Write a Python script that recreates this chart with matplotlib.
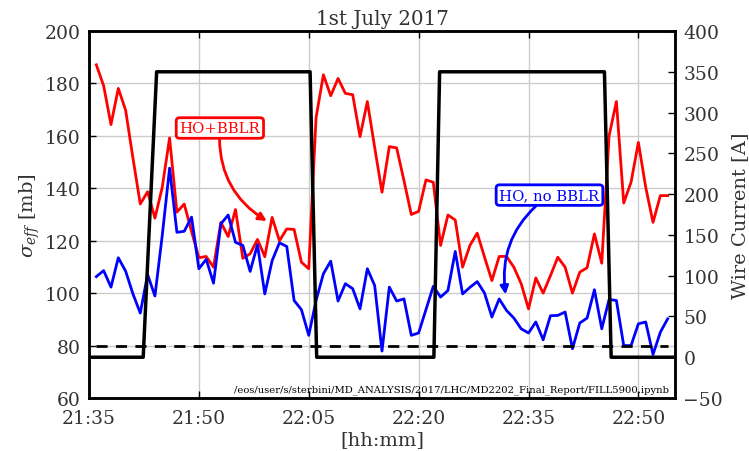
import datetime as dt
import matplotlib
matplotlib.use("Agg")
import matplotlib.pyplot as plt
import matplotlib.dates as mdates

plt.rcParams["font.family"] = "DejaVu Serif"
plt.rcParams["mathtext.fontset"] = "dejavuserif"

# Effective cross-section [mb], one sample per minute from 21:36 to 22:54
sigma_bblr = [187.1, 179.1, 164.3, 178.1, 169.8, 151.5, 134.0, 138.7, 128.6, 140.4,
              159.2, 130.9, 134.0, 123.5, 113.5, 114.0, 109.9, 127.0, 121.6, 131.9,
              113.3, 115.0, 120.5, 113.9, 128.9, 120.0, 124.5, 124.3, 111.8, 109.3,
              167.0, 183.3, 175.3, 181.9, 176.2, 175.7, 159.7, 173.1, 155.6, 138.5,
              155.9, 155.4, 142.9, 130.0, 131.2, 143.2, 142.3, 118.2, 129.8, 127.9,
              109.9, 118.2, 122.9, 113.7, 104.8, 114.0, 114.0, 109.9, 103.6, 94.0,
              105.8, 100.0, 106.7, 113.7, 109.9, 100.0, 108.0, 109.7, 122.6, 111.4,
              160.0, 173.1, 134.4, 142.3, 157.5, 140.4, 127.0, 137.2, 137.2]

sigma_no_bblr = [106.3, 108.6, 102.3, 113.5, 108.4, 99.7, 92.4, 107.1, 98.9, 122.0,
                 147.7, 123.2, 123.6, 129.0, 109.3, 112.9, 103.8, 126.4, 129.8, 119.4,
                 118.2, 108.3, 118.5, 99.7, 112.4, 119.2, 117.8, 97.2, 93.7, 83.9,
                 97.2, 107.4, 112.2, 97.0, 103.6, 101.7, 94.0, 109.3, 102.9, 77.9,
                 102.3, 97.0, 97.8, 83.9, 84.8, 93.7, 102.6, 98.5, 101.0, 115.9,
                 99.7, 102.2, 104.4, 100.0, 90.9, 97.8, 93.4, 90.5, 86.4, 84.8,
                 89.0, 82.2, 91.4, 91.5, 92.8, 78.8, 88.6, 90.5, 101.3, 86.4,
                 97.6, 97.2, 80.0, 80.0, 88.3, 89.0, 76.6, 85.1, 90.2]

# Wire current [A]
wire_times = ["21:35:00", "21:42:24", "21:44:14", "22:05:11", "22:06:05",
              "22:22:05", "22:22:52", "22:45:22", "22:46:17", "22:55:00"]
wire_current = [0, 0, 350, 350, 0, 0, 350, 350, 0, 0]

reference_sigma = 80.0
day = dt.datetime(2017, 7, 1)
start = day + dt.timedelta(hours=21, minutes=36)
t_sigma = [start + dt.timedelta(minutes=i) for i in range(len(sigma_bblr))]


def parse(s):
    h, m, sec = (int(v) for v in s.split(":"))
    return day + dt.timedelta(hours=h, minutes=m, seconds=sec)


t_wire = [parse(s) for s in wire_times]

fig = plt.figure(figsize=(7.49, 4.52), dpi=100)
ax = fig.add_axes([89 / 749, 1 - 399 / 452, (675 - 89) / 749, (399 - 32) / 452])
ax2 = ax.twinx()

ax.plot(t_sigma, sigma_bblr, color="red", lw=2.0, zorder=3)
ax.plot(t_sigma, sigma_no_bblr, color="blue", lw=2.0, zorder=3)
ax.plot([t_sigma[0], t_sigma[-1]], [reference_sigma, reference_sigma],
        color="black", lw=2.0, ls=(0, (4, 3)), zorder=3)
ax2.plot(t_wire, wire_current, color="black", lw=2.5)

ax.set_xlim(parse("21:35:00"), parse("22:55:00"))
ax.set_ylim(60, 200)
ax2.set_ylim(-50, 400)

ax.xaxis.set_major_locator(mdates.MinuteLocator(byminute=[5, 20, 35, 50]))
ax.xaxis.set_major_formatter(mdates.DateFormatter("%H:%M"))
ax.set_yticks(range(60, 201, 20))
ax2.set_yticks(range(-50, 401, 50))

ax.grid(True, color="#cccccc", lw=1.0)
ax.set_axisbelow(True)
for a in (ax, ax2):
    a.tick_params(direction="in", length=5, width=1, labelsize=13.5,
                  colors="black", labelcolor="#333333", pad=6)
    for s in a.spines.values():
        s.set_linewidth(1.8)
        s.set_color("black")
ax.tick_params(axis="x", top=True, pad=8)
ax.tick_params(axis="y", right=False)

ax.set_title("1st July 2017", fontsize=14.3, color="#333333", pad=5)
ax.set_xlabel("[hh:mm]", fontsize=14, color="#333333", labelpad=2)
ax.set_ylabel(r"$\sigma_{eff}$ [mb]", fontsize=14, color="#333333", labelpad=2)
ax2.set_ylabel("Wire Current [A]", fontsize=14, color="#333333", labelpad=6)

ax.text(0.99, 0.012,
        "/eos/user/s/sterbini/MD_ANALYSIS/2017/LHC/MD2202_Final_Report/FILL5900.ipynb",
        transform=ax.transAxes, ha="right", va="bottom", fontsize=7.2, color="black")

ax.annotate("HO+BBLR", xy=(parse("21:59:16"), 127.5),
            xytext=(parse("21:52:52"), 163.0),
            color="red", fontsize=10.7, ha="center", va="center",
            bbox=dict(boxstyle="round,pad=0.22", fc="white", ec="red", lw=2),
            arrowprops=dict(arrowstyle="-|>", color="red", lw=2, shrinkA=0, shrinkB=0,
                            connectionstyle="arc3,rad=0.3", mutation_scale=12),
            zorder=5)
ax.annotate("HO, no BBLR", xy=(parse("22:31:52"), 99.5),
            xytext=(parse("22:37:52"), 137.4),
            color="blue", fontsize=10.7, ha="center", va="center",
            bbox=dict(boxstyle="round,pad=0.22", fc="white", ec="blue", lw=2),
            arrowprops=dict(arrowstyle="-|>", color="blue", lw=2, shrinkA=0, shrinkB=0,
                            connectionstyle="arc3,rad=0.3", mutation_scale=12),
            zorder=5)

fig.savefig("out.png", dpi=100)
